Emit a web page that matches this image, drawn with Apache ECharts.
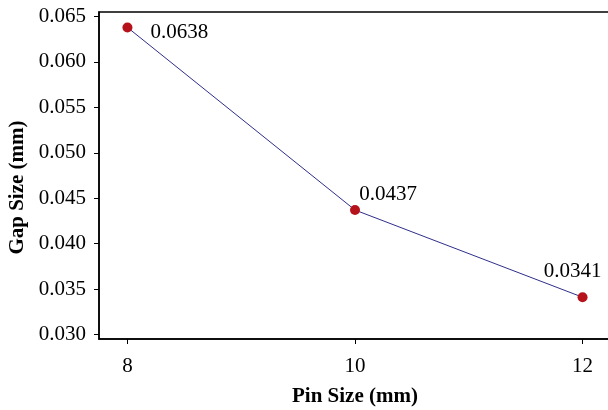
<!DOCTYPE html>
<html>
<head>
<meta charset="utf-8">
<script src="https://cdn.jsdelivr.net/npm/echarts@6/dist/echarts.min.js"></script>
<style>
  html, body { margin: 0; padding: 0; background: #fff; }
  #main { width: 608px; height: 410px; }
</style>
</head>
<body>
<div id="main"></div>
<script>
var pinSizes = [8, 10, 12];
var gapSizes = [0.0638, 0.0437, 0.0341];
var gapLabels = ["0.0638", "0.0437", "0.0341"];
var xTicks = [8, 10, 12];
var yTicks = [0.030, 0.035, 0.040, 0.045, 0.050, 0.055, 0.060, 0.065];

// label offsets from each point (px)
var labelOffsets = [[52, 5], [33, -16], [-10, -26]];

var font = "'Liberation Serif', 'Times New Roman', serif";

var myChart = echarts.init(document.getElementById("main"));

var points = pinSizes.map(function (x, i) {
  return {
    value: [x, gapSizes[i]],
    label: { offset: labelOffsets[i], formatter: gapLabels[i] },
  };
});

var option = {
  animation: false,
  grid: {
    left: 99,
    top: 12,
    width: 512,
    height: 327,
    outerBoundsMode: "none",
    show: true,
    borderColor: "#000",
    borderWidth: 1.5,
  },
  xAxis: {
    type: "value",
    min: 7.75,
    max: 12.25,
    name: "Pin Size (mm)",
    nameLocation: "middle",
    nameGap: 47,
    nameTextStyle: { fontFamily: font, fontSize: 21, fontWeight: "bold", color: "#000" },
    axisLine: { lineStyle: { color: "#000", width: 1.5 } },
    axisTick: { customValues: xTicks, length: 5, lineStyle: { color: "#000" } },
    axisLabel: {
      customValues: xTicks,
      margin: 17,
      fontFamily: font,
      fontSize: 21,
      color: "#000",
    },
    splitLine: { show: false },
  },
  yAxis: {
    type: "value",
    min: 0.0295,
    max: 0.0655,
    name: "Gap Size (mm)",
    nameLocation: "middle",
    nameGap: 70,
    nameTextStyle: {
      fontFamily: font,
      fontSize: 21,
      fontWeight: "bold",
      color: "#000",
      padding: [0, 24, 0, 0],
    },
    axisLine: { show: true, lineStyle: { color: "#000", width: 1.5 } },
    axisTick: { show: true, customValues: yTicks, length: 5, lineStyle: { color: "#000" } },
    axisLabel: {
      customValues: yTicks,
      margin: 13,
      fontFamily: font,
      fontSize: 21,
      color: "#000",
      formatter: function (v) { return v.toFixed(3); },
    },
    splitLine: { show: false },
  },
  series: [
    {
      type: "line",
      data: points,
      symbol: "circle",
      symbolSize: 10,
      itemStyle: { color: "#b5121b" },
      lineStyle: { color: "#2e2e8a", width: 1 },
      label: {
        show: true,
        position: "inside",
        fontFamily: font,
        fontSize: 21,
        color: "#000",
      },
    },
  ],
};

myChart.setOption(option);
</script>
</body>
</html>
